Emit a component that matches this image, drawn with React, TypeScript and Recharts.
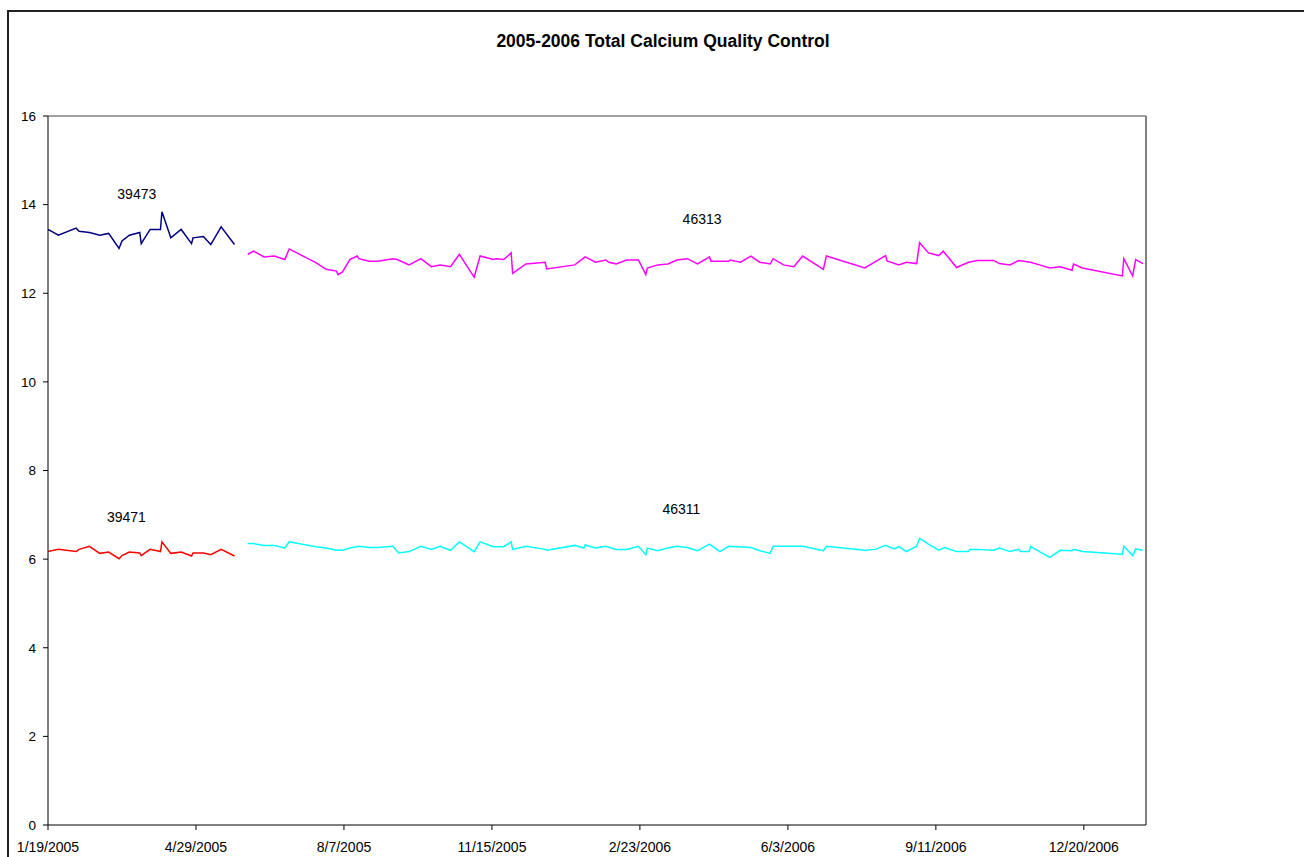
import { LineChart, Line, XAxis, YAxis, ReferenceLine, ReferenceDot } from "recharts";

// x values are days since 1/19/2005
const days2005 = [0, 7, 19, 21, 28, 35, 41, 48, 50, 55, 62, 63, 69, 76, 77, 83, 90, 97, 98, 105, 110, 117, 126];
const lot39473 = [13.44, 13.31, 13.47, 13.4, 13.37, 13.31, 13.35, 13.01, 13.18, 13.31, 13.37, 13.12, 13.44, 13.44, 13.84, 13.25, 13.44, 13.12, 13.25, 13.28, 13.1, 13.5, 13.1];
const lot39471 = [6.17, 6.22, 6.17, 6.22, 6.29, 6.13, 6.16, 6.01, 6.08, 6.16, 6.14, 6.08, 6.22, 6.17, 6.39, 6.13, 6.16, 6.07, 6.14, 6.14, 6.1, 6.22, 6.07];

const days46313 = [135, 139, 146, 153, 160, 163, 181, 188, 195, 196, 199, 204, 209, 210, 217, 223, 233, 236, 244, 252, 259, 265, 272, 278, 288, 292, 301, 303, 308, 313, 314, 323, 336, 337, 356, 363, 370, 377, 379, 384, 391, 399, 404, 405, 412, 419, 425, 432, 439, 447, 448, 460, 461, 468, 475, 481, 488, 490, 497, 504, 510, 524, 526, 552, 566, 567, 575, 580, 587, 589, 595, 602, 605, 614, 622, 628, 639, 643, 650, 656, 664, 670, 677, 684, 692, 693, 699, 726, 727, 733, 735, 740];
const lot46313 = [12.88, 12.95, 12.82, 12.84, 12.76, 13.0, 12.69, 12.54, 12.5, 12.42, 12.48, 12.76, 12.84, 12.78, 12.72, 12.72, 12.78, 12.76, 12.64, 12.78, 12.6, 12.64, 12.6, 12.88, 12.36, 12.84, 12.76, 12.78, 12.76, 12.91, 12.45, 12.66, 12.7, 12.55, 12.64, 12.82, 12.7, 12.75, 12.7, 12.66, 12.75, 12.75, 12.42, 12.57, 12.64, 12.66, 12.75, 12.78, 12.66, 12.82, 12.72, 12.72, 12.75, 12.7, 12.84, 12.7, 12.66, 12.78, 12.64, 12.6, 12.84, 12.54, 12.84, 12.57, 12.85, 12.73, 12.64, 12.7, 12.67, 13.14, 12.91, 12.85, 12.95, 12.58, 12.7, 12.74, 12.74, 12.67, 12.64, 12.74, 12.7, 12.64, 12.57, 12.6, 12.52, 12.66, 12.57, 12.39, 12.78, 12.39, 12.76, 12.67];

const days46311 = [135, 139, 146, 153, 160, 163, 181, 188, 195, 199, 204, 210, 217, 223, 233, 237, 244, 252, 259, 265, 272, 278, 288, 292, 301, 308, 313, 314, 323, 336, 337, 356, 362, 363, 370, 377, 384, 391, 399, 404, 405, 412, 419, 425, 432, 439, 447, 454, 460, 475, 481, 488, 490, 497, 510, 524, 526, 552, 559, 566, 572, 575, 580, 587, 589, 595, 602, 606, 614, 622, 623, 628, 639, 643, 650, 656, 657, 663, 664, 670, 677, 684, 692, 693, 699, 726, 727, 733, 735, 740];
const lot46311 = [6.35, 6.35, 6.31, 6.31, 6.25, 6.39, 6.28, 6.25, 6.2, 6.2, 6.25, 6.29, 6.26, 6.26, 6.29, 6.14, 6.17, 6.29, 6.22, 6.29, 6.2, 6.39, 6.17, 6.39, 6.28, 6.28, 6.39, 6.22, 6.29, 6.22, 6.2, 6.31, 6.25, 6.32, 6.25, 6.29, 6.22, 6.22, 6.29, 6.1, 6.25, 6.19, 6.25, 6.29, 6.26, 6.19, 6.34, 6.17, 6.29, 6.26, 6.19, 6.13, 6.29, 6.29, 6.29, 6.19, 6.29, 6.2, 6.22, 6.31, 6.23, 6.29, 6.17, 6.29, 6.47, 6.34, 6.2, 6.26, 6.17, 6.17, 6.22, 6.22, 6.2, 6.25, 6.17, 6.22, 6.17, 6.17, 6.29, 6.17, 6.04, 6.2, 6.19, 6.22, 6.17, 6.11, 6.29, 6.08, 6.23, 6.2];

const xTicks = [0, 100, 200, 300, 400, 500, 600, 700];
const yTicks = [0, 2, 4, 6, 8, 10, 12, 14, 16];
const xMax = 742;

const rows = (days: number[], vals: number[]) => days.map((d, i) => ({ d, v: vals[i] }));

const fmtDate = (d: number) => {
  const t = new Date(Date.UTC(2005, 0, 19) + d * 86400000);
  return `${t.getUTCMonth() + 1}/${t.getUTCDate()}/${t.getUTCFullYear()}`;
};

const font = "'Liberation Sans', Arial, sans-serif";

export default function App() {
  const lbl = (value: string) => ({ value, position: "center" as const, fill: "#000", fontSize: 14, fontFamily: font });
  return (
    <div>
      <div style={{ position: "absolute", left: 7, top: 10, width: 1297, height: 847, borderLeft: "2px solid #222", borderTop: "2px solid #222" }} />
      <div style={{ position: "absolute", left: 0, top: 31, width: 1326, textAlign: "center", fontFamily: font, fontWeight: "bold", fontSize: 17.5, color: "#000" }}>
        2005-2006 Total Calcium Quality Control
      </div>
      <div style={{ position: "absolute", left: 0, top: 0 }}>
        <LineChart width={1304} height={857} margin={{ top: 116, right: 158, left: 0, bottom: 2 }}>
          <XAxis type="number" dataKey="d" domain={[0, xMax]} ticks={xTicks} tickFormatter={fmtDate} allowDataOverflow
            height={30} stroke="#000" tickSize={5} tickMargin={12} tick={{ fill: "#000", fontSize: 14, fontFamily: font }} interval={0} />
          <YAxis type="number" domain={[0, 16]} ticks={yTicks} width={48} stroke="#000" tickSize={5} tickMargin={7}
            tick={{ fill: "#000", fontSize: 13.5, fontFamily: font }} interval={0} />
          <ReferenceLine y={16} stroke="#808080" strokeWidth={1.5} />
          <ReferenceLine x={xMax} stroke="#808080" strokeWidth={2} />
          <Line data={rows(days2005, lot39473)} dataKey="v" stroke="#000080" strokeWidth={1.5} dot={false} isAnimationActive={false} />
          <Line data={rows(days2005, lot39471)} dataKey="v" stroke="#FF0000" strokeWidth={1.5} dot={false} isAnimationActive={false} />
          <Line data={rows(days46313, lot46313)} dataKey="v" stroke="#FF00FF" strokeWidth={1.5} dot={false} isAnimationActive={false} />
          <Line data={rows(days46311, lot46311)} dataKey="v" stroke="#00FFFF" strokeWidth={1.5} dot={false} isAnimationActive={false} />
          <ReferenceDot x={60} y={14.23} r={0} fill="none" stroke="none" label={lbl("39473")} />
          <ReferenceDot x={53} y={6.94} r={0} fill="none" stroke="none" label={lbl("39471")} />
          <ReferenceDot x={442} y={13.67} r={0} fill="none" stroke="none" label={lbl("46313")} />
          <ReferenceDot x={428} y={7.14} r={0} fill="none" stroke="none" label={lbl("46311")} />
        </LineChart>
      </div>
    </div>
  );
}
